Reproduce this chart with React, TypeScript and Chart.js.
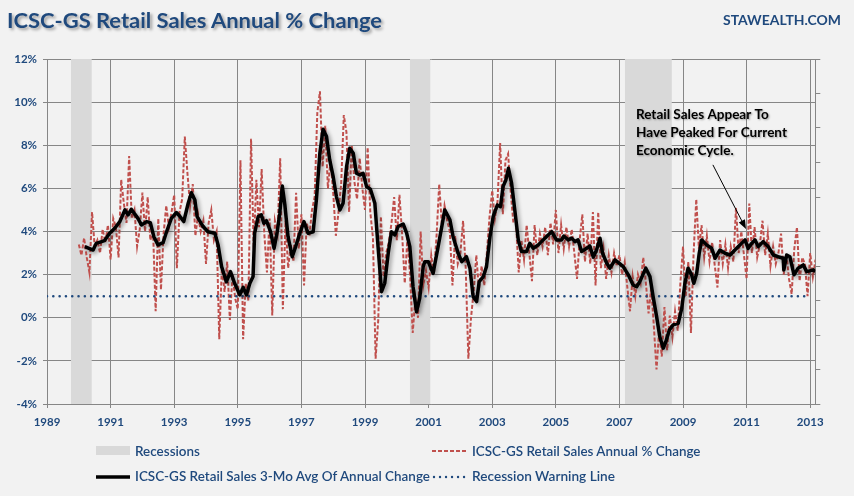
import React, { useEffect, useLayoutEffect, useRef } from 'react';
import { Chart, registerables } from 'chart.js';

Chart.register(...registerables);

// ---------------- DATA ----------------
const xTickYears = [1989, 1991, 1993, 1995, 1997, 1999, 2001, 2003, 2005, 2007, 2009, 2011, 2013];
const xMinYear = 1989;
const xMaxYear = 2013.16;
const yMin = -4;
const yMax = 12;
const yStep = 2;

const recessionStarts = [1989.75, 2000.41, 2007.17];
const recessionEnds = [1990.41, 2001.06, 2008.65];

// ICSC-GS Retail Sales Annual % Change, monthly from Jan 1990
const redStartYear = 1990;
const redValues = [
  // 1990
  3.4, 2.9, 3.7, 2.8, 2.1, 4.9, 3.3, 3.6, 3.0, 4.1, 3.5, 4.3,
  // 1991
  2.7, 4.6, 4.2, 2.8, 6.4, 5.3, 4.4, 7.5, 4.6, 5.0, 3.3, 4.1,
  // 1992
  5.8, 4.0, 5.6, 3.6, 4.1, 0.3, 4.6, 1.3, 3.9, 5.2, 4.2, 4.9,
  // 1993
  5.7, 2.3, 4.9, 5.5, 8.4, 6.7, 5.2, 6.2, 3.8, 4.8, 4.0, 4.5,
  // 1994
  2.5, 4.4, 5.0, 3.6, 4.0, -1.0, 2.4, 1.2, 2.6, -0.1, 2.0, 0.9,
  // 1995
  0.4, 7.3, -1.0, 1.6, 0.8, 8.3, 3.2, 6.4, 4.2, 6.9, 3.9, 2.1,
  // 1996
  4.6, 0.1, 4.5, 3.9, 7.4, 0.4, 4.5, 2.3, 3.4, 2.6, 5.8, 3.2,
  // 1997
  4.8, 1.5, 4.4, 3.8, 5.0, 5.6, 9.5, 10.5, 7.0, 8.9, 6.0, 7.3,
  // 1998
  5.8, 3.8, 4.9, 6.2, 9.4, 8.6, 4.9, 8.0, 6.3, 5.5, 7.4, 6.0,
  // 1999
  5.0, 7.9, 4.9, 3.7, -1.9, -0.1, 4.7, 1.9, 3.0, 3.5, 4.4, 5.6,
  // 2000
  3.6, 5.7, 3.9, 1.6, 3.7, 2.0, -0.7, 0.9, 0.0, 4.0, 1.5, 2.2,
  // 2001
  1.4, 2.9, 2.0, 3.8, 6.2, 4.3, 5.2, 4.5, 4.0, 1.5, 3.8, 2.5,
  // 2002
  3.0, 4.5, 2.3, -1.9, 0.0, 1.2, 2.9, 1.3, 2.4, 1.5, 3.0, 4.7,
  // 2003
  5.9, 4.6, 5.4, 8.1, 4.8, 7.3, 7.6, 5.8, 4.4, 4.4, 2.1, 3.6,
  // 2004
  2.7, 4.3, 3.0, 1.7, 4.3, 2.9, 3.9, 3.3, 4.2, 2.9, 4.4, 3.4,
  // 2005
  5.0, 3.0, 4.3, 3.2, 4.2, 3.3, 4.1, 3.0, 1.8, 3.6, 4.8, 2.6,
  // 2006
  3.9, 2.5, 4.9, 1.5, 4.9, 2.3, 3.2, 1.8, 2.9, 2.1, 3.0, 2.4,
  // 2007
  2.9, 2.0, 2.6, 1.4, 0.3, 1.9, 1.0, 2.0, 1.6, 2.8, 1.6, 0.2,
  // 2008
  1.4, -0.4, -2.4, -0.6, -1.8, 0.5, -1.5, 0.1, -0.9, 0.3, -0.6, 1.6,
  // 2009
  3.3, 1.0, 2.6, -0.7, 3.0, 5.5, 3.2, 4.3, 2.8, 3.8, 2.6, 3.5,
  // 2010
  2.4, 1.4, 3.6, 2.5, 3.4, 2.3, 3.3, 2.6, 5.1, 3.0, 4.0, 2.9,
  // 2011
  1.8, 5.3, 3.0, 4.2, 2.8, 3.4, 4.5, 2.9, 3.9, 2.4, 3.3, 2.5,
  // 2012
  3.0, 3.9, 2.0, 3.0, 1.8, 1.1, 3.2, 4.2, 1.7, 2.8, 2.5, 1.0,
  // 2013
  3.0, 1.9, 2.7,
];

// ICSC-GS Retail Sales 3-Mo Avg Of Annual Change (dates as decimal years)
const blackDates = [
  1990.19, 1990.45, 1990.55, 1990.81, 1990.97, 1991.13, 1991.29, 1991.45, 1991.55, 1991.65, 1991.86, 1991.97,
  1992.13, 1992.25, 1992.36, 1992.49, 1992.65, 1992.76, 1992.91, 1993.07, 1993.17, 1993.30, 1993.44, 1993.54,
  1993.65, 1993.72, 1993.91, 1994.06, 1994.28, 1994.38, 1994.49, 1994.64, 1994.77, 1994.90, 1995.06, 1995.17,
  1995.27, 1995.38, 1995.48, 1995.53, 1995.64, 1995.74, 1995.82, 1995.90, 1996.03, 1996.14, 1996.24, 1996.32,
  1996.40, 1996.48, 1996.58, 1996.71, 1996.82, 1996.95, 1997.08, 1997.21, 1997.37, 1997.47, 1997.58, 1997.68,
  1997.79, 1997.89, 1998.00, 1998.10, 1998.21, 1998.31, 1998.42, 1998.52, 1998.63, 1998.73, 1998.84, 1998.94,
  1999.05, 1999.17, 1999.31, 1999.41, 1999.52, 1999.62, 1999.73, 1999.83, 1999.94, 2000.04, 2000.20, 2000.31,
  2000.41, 2000.51, 2000.62, 2000.72, 2000.83, 2000.88, 2000.99, 2001.14, 2001.30, 2001.51, 2001.67, 2001.77,
  2001.93, 2002.04, 2002.19, 2002.30, 2002.40, 2002.51, 2002.59, 2002.72, 2002.82, 2002.93, 2003.03, 2003.16,
  2003.26, 2003.34, 2003.43, 2003.51, 2003.61, 2003.71, 2003.82, 2003.92, 2004.08, 2004.18, 2004.29, 2004.45,
  2004.60, 2004.76, 2004.87, 2005.02, 2005.18, 2005.25, 2005.39, 2005.50, 2005.60, 2005.70, 2005.81, 2005.97,
  2006.07, 2006.18, 2006.28, 2006.39, 2006.47, 2006.60, 2006.70, 2006.86, 2006.99, 2007.12, 2007.28, 2007.43,
  2007.54, 2007.64, 2007.83, 2007.96, 2008.06, 2008.17, 2008.27, 2008.38, 2008.46, 2008.57, 2008.69, 2008.85,
  2008.96, 2009.06, 2009.16, 2009.27, 2009.34, 2009.43, 2009.51, 2009.59, 2009.74, 2009.90, 2010.01, 2010.16,
  2010.32, 2010.48, 2010.63, 2010.74, 2010.84, 2010.95, 2011.05, 2011.16, 2011.26, 2011.37, 2011.52, 2011.68,
  2011.84, 2011.99, 2012.15, 2012.17, 2012.26, 2012.36, 2012.49, 2012.62, 2012.78, 2012.89, 2013.10, 2013.16,
];
const blackValues = [
  3.30, 3.14, 3.45, 3.58, 3.92, 4.15, 4.46, 5.00, 4.77, 5.03, 4.61, 4.30,
  4.46, 4.41, 3.76, 3.38, 3.48, 3.99, 4.61, 4.88, 4.72, 4.46, 5.31, 5.80,
  5.46, 4.69, 4.23, 3.99, 3.92, 3.38, 2.37, 1.67, 2.14, 1.60, 1.06, 1.41,
  1.06, 1.60, 1.91, 3.92, 4.69, 4.77, 4.38, 4.50, 3.99, 3.22, 3.99, 4.85,
  6.11, 5.23, 3.76, 2.83, 3.30, 3.92, 4.46, 3.92, 3.99, 5.46, 7.63, 8.74,
  8.40, 7.32, 6.54, 5.62, 5.00, 5.31, 7.01, 7.86, 7.63, 6.70, 6.62, 6.70,
  6.08, 5.96, 5.31, 3.30, 1.21, 1.60, 2.99, 3.99, 3.84, 4.23, 4.35, 3.92,
  3.30, 1.44, 0.28, 0.90, 2.37, 2.60, 2.60, 2.06, 3.30, 5.00, 4.54, 3.76,
  2.99, 2.60, 2.83, 2.30, 0.98, 0.75, 1.67, 1.91, 2.37, 3.76, 4.69, 5.23,
  5.15, 6.08, 6.39, 6.93, 6.24, 5.00, 3.61, 3.07, 3.07, 3.45, 3.22, 3.38,
  3.61, 3.84, 3.99, 3.61, 3.61, 3.79, 3.61, 3.69, 3.53, 3.61, 3.07, 3.22,
  3.33, 2.81, 3.14, 3.69, 2.99, 2.53, 2.30, 2.68, 2.53, 2.37, 1.99, 1.52,
  1.44, 1.67, 2.30, 1.91, 0.98, 0.05, -0.88, -1.41, -1.11, -0.57, -0.33, -0.26,
  0.44, 1.60, 2.30, 1.99, 1.60, 2.06, 2.99, 3.61, 3.38, 3.22, 2.76, 3.14,
  2.99, 2.91, 3.14, 3.30, 3.45, 3.61, 3.22, 3.45, 3.61, 3.30, 3.53, 3.30,
  2.91, 2.83, 2.76, 2.22, 2.91, 2.83, 1.99, 2.30, 2.45, 2.14, 2.22, 2.14,
];

const warningLevel = 1;
const warningSpan = [1989, 2013];

const annotationLines = ['Retail Sales Appear To', 'Have Peaked For Current', 'Economic Cycle.'];
const annotationAt = [2007.52, 9.41]; // left edge of text / first line centre
const arrowFrom = [2009.94, 7.09];
const arrowTo = [2010.98, 4.12];

const legendLabels = [
  'Recessions',
  'ICSC-GS Retail Sales Annual % Change',
  'ICSC-GS Retail Sales 3-Mo Avg Of Annual Change',
  'Recession Warning Line',
];

// ---------------- STYLE ----------------
const W = 854;
const H = 496;
const NAVY = '#1f497d';
const GRID = '#868686';
const RED = '#c0504d';
const REC = '#d9d9d9';
const FONT = 'Lato, "Open Sans", sans-serif';

const shadowPlugin = {
  id: 'lineShadow',
  beforeDatasetDraw(chart: any, args: any) {
    const ds = chart.data.datasets[args.index];
    if (ds.withShadow) {
      const ctx = chart.ctx;
      ctx.save();
      ctx.shadowColor = 'rgba(0,0,0,0.4)';
      ctx.shadowBlur = 4;
      ctx.shadowOffsetX = 2;
      ctx.shadowOffsetY = 2;
    }
  },
  afterDatasetDraw(chart: any, args: any) {
    const ds = chart.data.datasets[args.index];
    if (ds.withShadow) chart.ctx.restore();
  },
};

const notePlugin = {
  id: 'note',
  afterDatasetsDraw(chart: any) {
    const ctx = chart.ctx;
    const xs = chart.scales.x;
    const ys = chart.scales.y;
    ctx.save();
    // arrow
    const x1 = xs.getPixelForValue(arrowFrom[0]);
    const y1 = ys.getPixelForValue(arrowFrom[1]);
    const x2 = xs.getPixelForValue(arrowTo[0]);
    const y2 = ys.getPixelForValue(arrowTo[1]);
    const ang = Math.atan2(y2 - y1, x2 - x1);
    const L = 9;
    const hw = 3.5;
    ctx.strokeStyle = '#000';
    ctx.fillStyle = '#000';
    ctx.lineWidth = 1;
    ctx.beginPath();
    ctx.moveTo(x1, y1);
    ctx.lineTo(x2 - Math.cos(ang) * L * 0.6, y2 - Math.sin(ang) * L * 0.6);
    ctx.stroke();
    ctx.beginPath();
    ctx.moveTo(x2, y2);
    ctx.lineTo(x2 - L * Math.cos(ang) + hw * Math.sin(ang), y2 - L * Math.sin(ang) - hw * Math.cos(ang));
    ctx.lineTo(x2 - L * Math.cos(ang) - hw * Math.sin(ang), y2 - L * Math.sin(ang) + hw * Math.cos(ang));
    ctx.closePath();
    ctx.fill();
    // text
    ctx.font = `bold 13px ${FONT}`;
    ctx.textBaseline = 'middle';
    ctx.textAlign = 'left';
    const tx = xs.getPixelForValue(annotationAt[0]);
    const ty = ys.getPixelForValue(annotationAt[1]);
    const ref = ctx.measureText(annotationLines[1]).width;
    const sx = ref > 0 ? 151 / ref : 1;
    ctx.shadowColor = 'rgba(0,0,0,0.35)';
    ctx.shadowBlur = 2;
    ctx.shadowOffsetX = 1;
    ctx.shadowOffsetY = 1;
    annotationLines.forEach((line, i) => {
      ctx.save();
      ctx.translate(tx, ty + i * 18);
      ctx.scale(sx, 1);
      ctx.fillText(line, 0, 0);
      ctx.restore();
    });
    ctx.restore();
  },
};

function FitText(props: { text: string; left: number; top: number; width: number; style: any }) {
  const ref = useRef<HTMLSpanElement>(null);
  useLayoutEffect(() => {
    const fit = () => {
      const el = ref.current;
      if (!el) return;
      el.style.transform = 'none';
      const w = el.getBoundingClientRect().width;
      if (w > 0) el.style.transform = `scaleX(${props.width / w})`;
    };
    fit();
    if ((document as any).fonts && (document as any).fonts.ready) {
      (document as any).fonts.ready.then(fit);
    }
  }, [props.text, props.width]);
  return (
    <span
      ref={ref}
      style={{
        position: 'absolute',
        left: props.left,
        top: props.top,
        whiteSpace: 'nowrap',
        transformOrigin: '0 0',
        fontFamily: FONT,
        ...props.style,
      }}
    >
      {props.text}
    </span>
  );
}

export default function App() {
  const canvasRef = useRef<HTMLCanvasElement>(null);

  useEffect(() => {
    const canvas = canvasRef.current;
    if (!canvas) return;

    const redData = redValues.map((v, i) => ({ x: redStartYear + i / 12, y: v }));
    const blackData = blackDates.map((d, i) => ({ x: d, y: blackValues[i] }));
    const warnData = warningSpan.map((d) => ({ x: d, y: warningLevel }));

    const recessionSets = recessionStarts.map((s, i) => ({
      label: legendLabels[0],
      data: [
        { x: s, y: yMax },
        { x: recessionEnds[i], y: yMax },
      ],
      borderWidth: 0,
      borderColor: 'rgba(0,0,0,0)',
      backgroundColor: REC,
      fill: 'start',
      pointRadius: 0,
      order: 10,
    }));

    const chart = new Chart(canvas, {
      type: 'line',
      data: {
        datasets: [
          {
            label: legendLabels[2],
            data: blackData,
            borderColor: '#000',
            borderWidth: 3.5,
            borderJoinStyle: 'round',
            pointRadius: 0,
            tension: 0,
            fill: false,
            order: 1,
            withShadow: true,
          } as any,
          {
            label: legendLabels[3],
            data: warnData,
            borderColor: NAVY,
            borderWidth: 2.6,
            borderDash: [0.01, 6.3],
            borderCapStyle: 'round',
            pointRadius: 0,
            fill: false,
            order: 2,
          },
          {
            label: legendLabels[1],
            data: redData,
            borderColor: RED,
            borderWidth: 2,
            borderDash: [4, 2],
            pointRadius: 0,
            tension: 0,
            fill: false,
            order: 3,
          },
          ...recessionSets,
        ],
      },
      options: {
        animation: false,
        responsive: false,
        maintainAspectRatio: false,
        devicePixelRatio: 1,
        events: [],
        layout: { padding: { left: 0, right: W - 815.3 - 10, top: 59, bottom: H - 404 - 30 } },
        plugins: {
          legend: { display: false },
          tooltip: { enabled: false },
          title: { display: false },
        },
        scales: {
          x: {
            type: 'linear',
            min: xMinYear,
            max: xMaxYear,
            afterBuildTicks: (s: any) => {
              s.ticks = xTickYears.map((v) => ({ value: v }));
            },
            afterFit: (s: any) => {
              s.height = 30;
            },
            ticks: {
              autoSkip: false,
              maxRotation: 0,
              padding: 7,
              color: NAVY,
              font: { family: FONT, size: 11.5, weight: 'bold' },
              callback: (v: any) => String(v),
            },
            grid: { color: GRID, tickLength: 4, lineWidth: 1 },
            border: { color: GRID },
          },
          y: {
            type: 'linear',
            min: yMin,
            max: yMax,
            afterFit: (s: any) => {
              s.width = 47;
            },
            ticks: {
              stepSize: yStep,
              padding: 6,
              color: NAVY,
              font: { family: FONT, size: 11.5, weight: 'bold' },
              callback: (v: any) => `${v}%`,
            },
            grid: { color: GRID, tickLength: 4, lineWidth: 1 },
            border: { color: GRID },
          },
          y2: {
            type: 'linear',
            position: 'right',
            min: 0,
            max: 10,
            afterFit: (s: any) => {
              s.width = 10;
            },
            ticks: { stepSize: 1, display: false },
            grid: { drawOnChartArea: false, color: GRID, tickLength: 5 },
            border: { color: GRID },
          },
        },
      } as any,
      plugins: [shadowPlugin, notePlugin],
    });
    return () => chart.destroy();
  }, []);

  const legendText = { color: NAVY, fontSize: 13.5, lineHeight: '16px', fontWeight: 600 };

  return (
    <div
      style={{
        position: 'fixed',
        left: 0,
        top: 0,
        width: W,
        height: H,
        background: '#f2f2f2',
        overflow: 'hidden',
      }}
    >
      <canvas
        ref={canvasRef}
        width={W}
        height={H}
        style={{ position: 'absolute', left: 0, top: 0, width: W, height: H }}
      />
      <FitText
        text="ICSC-GS Retail Sales Annual % Change"
        left={7}
        top={8}
        width={375}
        style={{
          color: NAVY,
          fontWeight: 700,
          fontSize: 21,
          lineHeight: '24px',
          textShadow: '2px 2px 3px rgba(0,0,0,0.35)',
        }}
      />
      <FitText
        text="STAWEALTH.COM"
        left={723}
        top={11}
        width={118}
        style={{ color: NAVY, fontWeight: 700, fontSize: 14, lineHeight: '18px' }}
      />
      {/* legend */}
      <div style={{ position: 'absolute', left: 96, top: 446, width: 34, height: 9, background: REC }} />
      <FitText text={legendLabels[0]} left={134.5} top={442.5} width={65} style={legendText} />
      <svg style={{ position: 'absolute', left: 430, top: 446 }} width={40} height={10}>
        <line x1={2} y1={5} x2={38} y2={5} stroke={RED} strokeWidth={2} strokeDasharray="4 2" />
      </svg>
      <FitText text={legendLabels[1]} left={471.5} top={442.5} width={228.5} style={legendText} />
      <svg style={{ position: 'absolute', left: 94, top: 471 }} width={40} height={12}>
        <line x1={2} y1={6} x2={36} y2={6} stroke="#000" strokeWidth={3.5} />
      </svg>
      <FitText text={legendLabels[2]} left={134.5} top={468} width={295} style={legendText} />
      <svg style={{ position: 'absolute', left: 430, top: 471 }} width={40} height={12}>
        <line
          x1={4}
          y1={6}
          x2={36}
          y2={6}
          stroke={NAVY}
          strokeWidth={2.4}
          strokeLinecap="round"
          strokeDasharray="0.01 6"
        />
      </svg>
      <FitText text={legendLabels[3]} left={471.5} top={468} width={143} style={legendText} />
    </div>
  );
}
